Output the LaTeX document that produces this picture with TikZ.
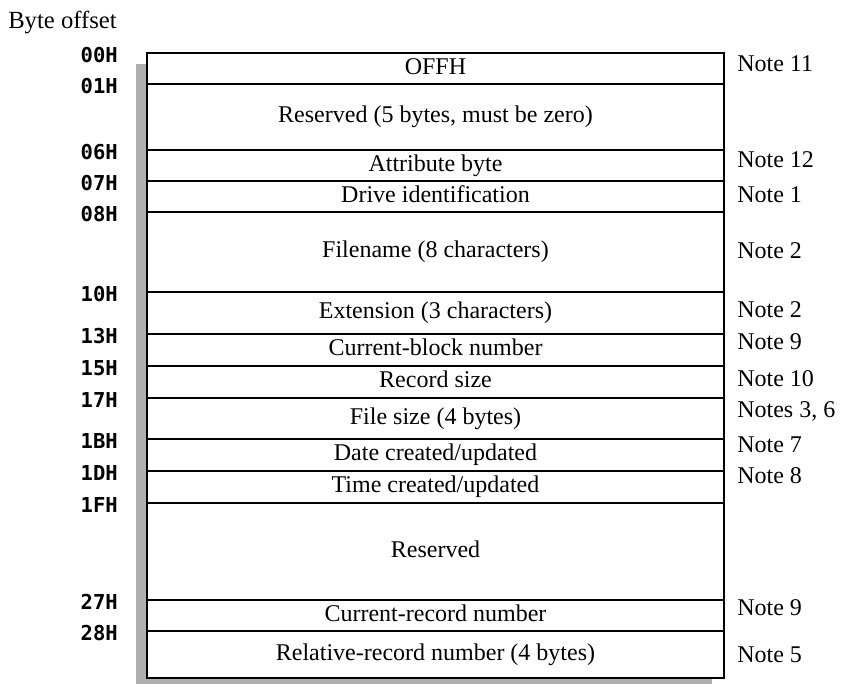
\documentclass[tikz,border=0pt]{standalone}
\usepackage{fontspec}
\setmainfont{Liberation Serif}
\newfontfamily\offsetfont{DejaVu Sans Mono}
\usepackage{xcolor}

\tikzset{
  rowline/.style={line width=1.1pt},
  shadow/.style={fill=gray!62},
  field/.style={inner sep=0pt,text height=12.6pt,text depth=4pt,
    font=\fontsize{18}{20}\selectfont},
  offset/.style={anchor=east,inner sep=0pt,text height=11pt,text depth=0pt,
    font=\offsetfont\bfseries\fontsize{15.4}{17}\selectfont},
  note/.style={anchor=base west,inner sep=0pt,font=\fontsize{18}{20}\selectfont}
}

\begin{document}
\begin{tikzpicture}[x=0.75pt,y=-0.75pt]
\useasboundingbox (0,0) rectangle (843,684);
% #1 name, #2 top, #3 bottom, #4 offset, #5 field text
\newcommand{\fieldrow}[5]{%
  \draw[rowline] (147,#2) rectangle (724,#3);
  \node[field] (#1) at (435.5,{(#2+#3)/2}) {#5};
  \node[offset] (#1-off) at (118,{#2+2}) {#4};
}
\node[note,font=\fontsize{18.5}{20}\selectfont] (title) at (8,29) {Byte offset};
% shadow of the block
\fill[shadow] (136,64) rectangle (147,684);
\fill[shadow] (136,678) rectangle (712,684);
\fieldrow{ffh}{53}{84}{00H}{OFFH}
\fieldrow{res5}{84}{150}{01H}{Reserved (5 bytes, must be zero)}
\fieldrow{attr}{150}{181}{06H}{Attribute byte}
\fieldrow{drive}{181}{212}{07H}{Drive identification}
\fieldrow{fname}{212}{292}{08H}{Filename (8 characters)}
\fieldrow{ext}{292}{334}{10H}{Extension (3 characters)}
\fieldrow{cblock}{334}{366}{13H}{Current-block number}
\fieldrow{recsize}{366}{398}{15H}{Record size}
\fieldrow{fsize}{398}{439}{17H}{File size (4 bytes)}
\fieldrow{date}{439}{471}{1BH}{Date created/updated}
\fieldrow{time}{471}{503}{1DH}{Time created/updated}
\fieldrow{res}{503}{600}{1FH}{Reserved}
\fieldrow{crec}{600}{631}{27H}{Current-record number}
\fieldrow{rrec}{631}{678}{28H}{Relative-record number (4 bytes)}
% notes at the right
\node[note] (n-ffh) at (737,72) {Note 11};
\node[note] (n-attr) at (737,168) {Note 12};
\node[note] (n-drive) at (737,203) {Note 1};
\node[note] (n-fname) at (737,259) {Note 2};
\node[note] (n-ext) at (737,318) {Note 2};
\node[note] (n-cblock) at (737,350) {Note 9};
\node[note] (n-recsize) at (737,387) {Note 10};
\node[note] (n-fsize) at (737,417) {Notes 3, 6};
\node[note] (n-date) at (737,452) {Note 7};
\node[note] (n-time) at (737,483) {Note 8};
\node[note] (n-crec) at (737,615) {Note 9};
\node[note] (n-rrec) at (737,662) {Note 5};
\end{tikzpicture}
\end{document}
